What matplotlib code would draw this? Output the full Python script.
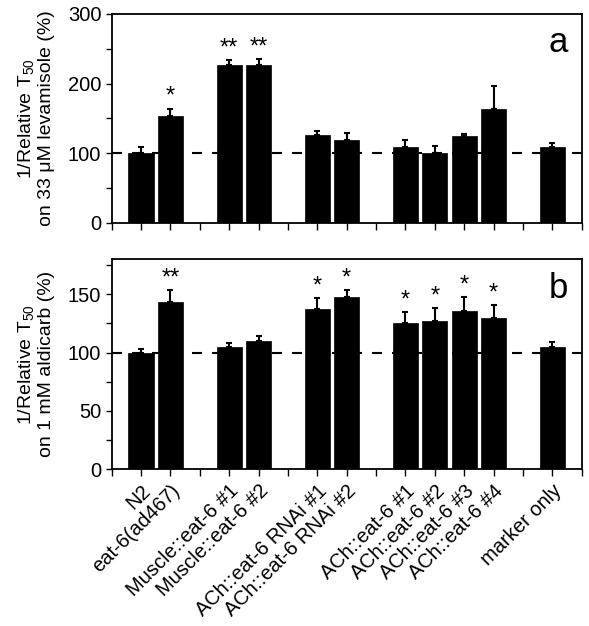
"""
Relative sensitivity to levamisole (a) and aldicarb (b) for eat-6 strains.
"""

import matplotlib.pyplot as plt
from matplotlib.ticker import MultipleLocator

plt.rcParams["font.family"] = ["Liberation Sans", "DejaVu Sans"]
plt.rcParams["mathtext.fontset"] = "custom"
plt.rcParams["mathtext.rm"] = "Liberation Sans"
plt.rcParams["mathtext.it"] = "Liberation Sans:italic"

STRAINS = ["N2", "eat-6(ad467)", "Muscle::eat-6 #1", "Muscle::eat-6 #2",
           "ACh::eat-6 RNAi #1", "ACh::eat-6 RNAi #2",
           "ACh::eat-6 #1", "ACh::eat-6 #2", "ACh::eat-6 #3", "ACh::eat-6 #4",
           "marker only"]
SLOTS = [1, 2, 4, 5, 7, 8, 10, 11, 12, 13, 15]   # gaps between strain groups

LEV_MEAN = [100, 154, 227, 226, 126, 119, 109, 100, 124, 163, 109]
LEV_ERR = [9, 10, 7, 9, 6, 10, 10, 10, 3, 34, 5]
LEV_STARS = ["", "*", "**", "**", "", "", "", "", "", "", ""]

ALD_MEAN = [100, 143, 105, 110, 137, 148, 125, 127, 136, 130, 105]
ALD_ERR = [3, 11, 3, 4, 10, 6, 10, 11, 12, 11, 4]
ALD_STARS = ["", "**", "", "", "*", "*", "*", "*", "*", "*", ""]


def draw_panel(ax, means, errs, stars, ymax, major, minor, ylabel, letter):
    ax.axhline(100, color="black", lw=1.5, dashes=(4.8, 4.8), zorder=1)
    ax.bar(SLOTS, means, width=0.86, color="black", edgecolor="black",
           linewidth=0.5, zorder=2)
    ax.errorbar(SLOTS, means, yerr=[[0] * len(errs), errs], fmt="none",
                ecolor="black", elinewidth=1.5, capsize=2.5, capthick=1.5,
                zorder=3)
    for x, m, e, s in zip(SLOTS, means, errs, stars):
        if s:
            ax.annotate(s, (x, m + e), xytext=(0, 4), textcoords="offset points",
                        ha="center", va="baseline", fontsize=17)
    ax.set_xlim(0, 16)
    ax.set_ylim(0, ymax)
    ax.yaxis.set_major_locator(MultipleLocator(major))
    ax.yaxis.set_minor_locator(MultipleLocator(minor))
    ax.set_xticks(range(0, 17))
    ax.tick_params(axis="x", direction="out", length=5, width=1)
    ax.tick_params(axis="y", which="both", direction="out", length=4, width=1)
    ax.tick_params(axis="y", labelsize=14.5)
    for sp in ax.spines.values():
        sp.set_linewidth(1.3)
    ax.set_ylabel(ylabel, fontsize=14, linespacing=1.15)
    ax.yaxis.set_label_coords(-0.12, 0.5)
    ax.text(0.97, 0.94, letter, transform=ax.transAxes, ha="right", va="top",
            fontsize=25)


fig = plt.figure(figsize=(5.89, 6.26), dpi=100)
ax_a = fig.add_axes([0.1896, 0.6443, 0.798, 0.3334])
ax_b = fig.add_axes([0.1896, 0.2503, 0.798, 0.3355])

draw_panel(ax_a, LEV_MEAN, LEV_ERR, LEV_STARS, 300, 100, 50,
           "1/Relative T$_{50}$\non 33 \u03bcM levamisole (%)", "a")
draw_panel(ax_b, ALD_MEAN, ALD_ERR, ALD_STARS, 180, 50, 25,
           "1/Relative T$_{50}$\non 1 mM aldicarb (%)", "b")

ax_a.set_xticklabels([])
labels = [""] * 17
for s, name in zip(SLOTS, STRAINS):
    labels[s] = name
ax_b.set_xticklabels(labels, rotation=45, ha="right", rotation_mode="anchor",
                     fontsize=14.5)

fig.savefig("out.png", dpi=100)
